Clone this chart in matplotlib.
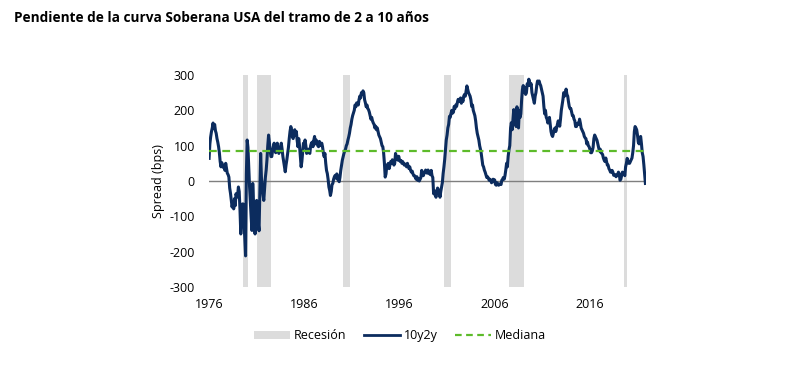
import pandas as pd
import matplotlib
matplotlib.use("Agg")
import matplotlib.pyplot as plt
from matplotlib.patches import Patch
from matplotlib.lines import Line2D

plt.rcParams["font.family"] = ["Open Sans", "DejaVu Sans"]
plt.rcParams["axes.unicode_minus"] = False

# diferencial 10 años - 2 años (pb), datos mensuales desde jun-1976
inicio = "1976-06-01"
spread = [
    64, 105, 125, 140, 150, 164, 148,                       # 1976 (jun-dic)
    160, 142, 135, 120, 110, 97, 80, 55, 40, 52, 45, 38,    # 1977
    42, 30, 50, 35, 22, 18, 11, -20, -35, -55, -74, -60,    # 1978
    -79, -50, -70, -36, -46, -40, -17, -30, -84, -150, -100, -65,  # 1979
    -65, -120, -160, -212, 20, 116, 95, 40, -17, -60, -103, -140,  # 1980
    -7, -60, -120, -150, -100, -55, -90, -120, -141, -30, 78, 10,  # 1981
    -17, -40, -55, -20, 10, 31, 60, 100, 130, 110, 85, 69,  # 1982
    69, 85, 97, 107, 95, 80, 100, 107, 90, 78, 88, 95,      # 1983
    107, 90, 70, 55, 40, 26, 45, 60, 78, 95, 120, 140,      # 1984
    154, 145, 126, 120, 135, 145, 130, 140, 115, 97, 120, 100,  # 1985
    70, 40, 55, 80, 107, 95, 116, 100, 78, 85, 90, 80,      # 1986
    78, 100, 107, 110, 97, 115, 126, 105, 116, 110, 100, 97,  # 1987
    112, 105, 100, 107, 97, 80, 69, 78, 50, 30, 21, 5,      # 1988
    -17, -27, -41, -30, -10, -7, 5, 12, 16, 8, 20, 5,       # 1989
    2, -2, 10, 30, 45, 59, 69, 78, 85, 90, 100, 105,        # 1990
    116, 125, 135, 150, 160, 175, 185, 192, 200, 215, 210, 221,  # 1991
    221, 215, 230, 240, 235, 250, 245, 255, 250, 230, 221, 210,  # 1992
    215, 205, 202, 195, 185, 175, 180, 170, 164, 160, 150, 155,  # 1993
    145, 150, 140, 130, 125, 120, 110, 100, 97, 80, 50, 11,  # 1994
    20, 45, 40, 50, 35, 45, 55, 50, 60, 55, 45, 50,         # 1995
    78, 70, 65, 59, 70, 60, 55, 58, 50, 55, 50, 45,         # 1996
    48, 45, 40, 50, 42, 35, 40, 30, 25, 28, 20, 15,         # 1997
    15, 10, 5, 12, 2, 6, 0, 5, 10, 30, 20, 15,              # 1998
    21, 25, 31, 28, 22, 31, 25, 20, 18, 30, 15, 10,         # 1999
    -36, -27, -40, -46, -35, -20, -25, -30, -46, -30, -17, -5,  # 2000
    21, 40, 60, 90, 116, 130, 150, 160, 183, 180, 192, 200,  # 2001
    192, 195, 211, 205, 215, 211, 222, 231, 225, 231, 235, 220,  # 2002
    231, 225, 240, 245, 240, 255, 269, 260, 250, 245, 240, 230,  # 2003
    211, 215, 200, 192, 185, 170, 150, 135, 125, 116, 100, 90,  # 2004
    78, 60, 45, 40, 31, 25, 18, 10, 12, 8, 2, 5,            # 2005
    2, -5, 0, 5, -2, 3, -10, -12, -5, -8, -12, -10,         # 2006
    -8, -10, 2, 5, 10, 5, 15, 31, 50, 40, 70, 88,           # 2007
    100, 150, 165, 145, 175, 202, 160, 190, 154, 210, 190, 150,  # 2008
    200, 180, 190, 230, 259, 270, 250, 265, 245, 250, 275, 270,  # 2009
    288, 280, 270, 275, 250, 240, 230, 220, 240, 250, 270, 283,  # 2010
    280, 283, 275, 270, 260, 250, 240, 211, 190, 200, 180, 175,  # 2011
    164, 170, 180, 160, 140, 130, 126, 135, 145, 150, 140, 150,  # 2012
    160, 170, 165, 155, 175, 200, 215, 230, 250, 240, 245, 260,  # 2013
    245, 240, 225, 211, 205, 205, 195, 185, 185, 175, 170, 154,  # 2014
    154, 160, 164, 160, 175, 164, 150, 145, 140, 135, 126, 122,  # 2015
    120, 105, 110, 100, 97, 90, 80, 80, 85, 95, 120, 130,   # 2016
    125, 120, 115, 105, 95, 85, 90, 80, 78, 75, 65, 59,     # 2017
    55, 65, 55, 45, 45, 35, 31, 25, 25, 30, 25, 16,         # 2018
    16, 18, 12, 16, 18, 25, 20, 2, 5, 15, 25, 21,           # 2019
    21, 15, 40, 50, 64, 55, 50, 50, 55, 60, 65, 80,         # 2020
    100, 140, 154, 150, 145, 130, 110, 105, 120, 126, 105, 80,  # 2021
    69, 45, 20, -7,                                         # 2022 (ene-abr)
]
mediana = 84

rec_inicio = ["1980-01-01", "1981-07-01", "1990-07-01", "2001-03-01", "2007-12-01", "2020-02-01"]
rec_fin = ["1980-07-31", "1982-11-30", "1991-03-31", "2001-11-30", "2009-06-30", "2020-04-30"]

etiquetas_x = ["1976", "1986", "1996", "2006", "2016"]
ticks_y = [-300, -200, -100, 0, 100, 200, 300]


def a_decimal(fechas):
    fechas = pd.to_datetime(fechas)
    return fechas.year + (fechas.dayofyear - 1) / 365.25


fechas = pd.date_range(inicio, periods=len(spread), freq="MS") + pd.Timedelta(days=14)
t = a_decimal(fechas)

azul = "#0c2c5e"
verde = "#5dbb2a"
gris = "#dcdcdc"

fig = plt.figure(figsize=(8, 3.73), dpi=100)
ax = fig.add_axes([0.261, 0.2306, 0.546, 0.5684])

for a, b in zip(a_decimal(rec_inicio), a_decimal(rec_fin)):
    ax.axvspan(a, b, color=gris, lw=0, zorder=0)

ax.axhline(0, color="#7f7f7f", lw=1.0, zorder=1)
ax.plot(t, spread, color=azul, lw=2.2, zorder=3)
ax.axhline(mediana, color=verde, lw=1.6, ls=(0, (3.5, 2.5)), zorder=4)

ax.set_xlim(t[0] - 0.03, t[-1] + 0.02)
ax.set_ylim(-300, 300)
ax.set_xticks([t[0] + 10 * i for i in range(len(etiquetas_x))])
ax.set_xticklabels(etiquetas_x)
ax.set_yticks(ticks_y)
ax.tick_params(length=0, labelsize=9, colors="black")
ax.tick_params(axis="x", pad=8)
ax.tick_params(axis="y", pad=10)
for s in ax.spines.values():
    s.set_visible(False)
ax.set_ylabel("Spread (bps)", fontsize=9, labelpad=3)

fig.text(0.017, 0.952, "Pendiente de la curva Soberana USA del tramo de 2 a 10 años",
         fontsize=9.8, fontweight="bold", va="center", ha="left")

handles = [
    Patch(facecolor=gris, edgecolor="none"),
    Line2D([0], [0], color=azul, lw=2.0),
    Line2D([0], [0], color=verde, lw=1.6, ls=(0, (3, 2))),
]
fig.legend(handles, ["Recesión", "10y2y", "Mediana"], loc="center",
           bbox_to_anchor=(0.5, 0.1), ncol=3, frameon=False, fontsize=9,
           handlelength=2.9, handleheight=0.55, handletextpad=0.3, columnspacing=1.4)

fig.savefig("out.png", dpi=100)
